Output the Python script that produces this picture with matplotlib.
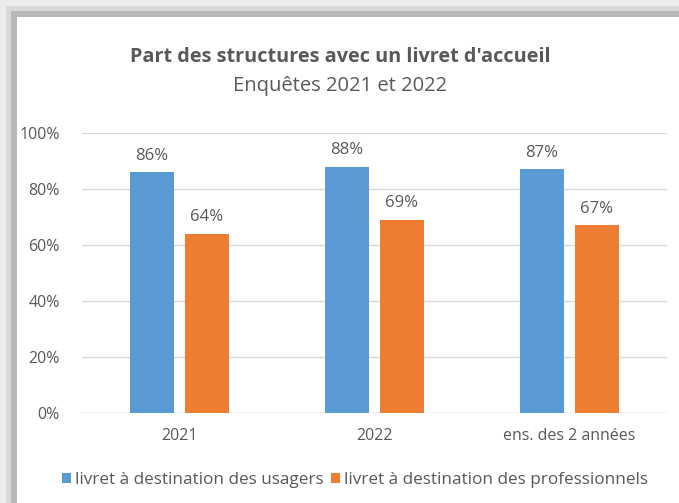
import numpy as np
import matplotlib.pyplot as plt
from matplotlib.patches import Rectangle

categories = ["2021", "2022", "ens. des 2 années"]
usagers = [86, 88, 87]
professionnels = [64, 69, 67]
series_names = ["livret à destination des usagers", "livret à destination des professionnels"]
yticks = [0, 20, 40, 60, 80, 100]

blue = "#5b9bd5"
orange = "#ed7d31"
txt = "#595959"

plt.rcParams['font.family'] = ['Open Sans', 'DejaVu Sans']

W, H = 679, 503
fig = plt.figure(figsize=(W / 100, H / 100), dpi=100)
fig.patch.set_facecolor("white")

# ombre du cadre (haut et gauche)
bands = [(0, 6, "#ececec"), (6, 11, "#d9d9d9"), (11, 17, "#b8b8b8")]
for a, b, c in bands:
    fig.patches.append(Rectangle((a / W, 0), (b - a) / W, 1 - a / H, transform=fig.transFigure,
                                 facecolor=c, edgecolor="none", zorder=0))
    fig.patches.append(Rectangle((a / W, 1 - b / H), 1 - a / W, (b - a) / H, transform=fig.transFigure,
                                 facecolor=c, edgecolor="none", zorder=0))

ax = fig.add_axes([82 / W, 1 - 413 / H, (667 - 82) / W, (413 - 133) / H])
ax.set_facecolor("none")

x = np.arange(len(categories))
w = 0.226
off = 0.141
b1 = ax.bar(x - off, usagers, w, color=blue, label=series_names[0], zorder=3)
b2 = ax.bar(x + off, professionnels, w, color=orange, label=series_names[1], zorder=3)

for bars, vals in ((b1, usagers), (b2, professionnels)):
    for r, v in zip(bars, vals):
        ax.text(r.get_x() + r.get_width() / 2, v + 3.0, f"{v}%", ha="center", va="bottom",
                fontsize=12, color=txt)

ax.set_xlim(-0.5, 2.5)
ax.set_ylim(0, 100)
ax.set_yticks(yticks)
ax.set_yticklabels([f"{t}%" for t in yticks])
ax.set_xticks(x)
ax.set_xticklabels(categories)
ax.tick_params(length=0, labelsize=11.5, labelcolor=txt)
ax.tick_params(axis="y", pad=16)
ax.tick_params(axis="x", pad=11)
ax.grid(axis="y", color="#d9d9d9", linewidth=1, zorder=0)
ax.set_axisbelow(True)
for s in ax.spines.values():
    s.set_visible(False)
ax.axhline(0, color="#d9d9d9", linewidth=1, zorder=2)

fig.text(340 / W, 1 - 57 / H, "Part des structures avec un livret d'accueil", ha="center", va="center",
         fontsize=14.3, fontweight="bold", color=txt)
fig.text(340 / W, 1 - 86 / H, "Enquêtes 2021 et 2022", ha="center", va="center",
         fontsize=14.5, color=txt)

fig.legend(handles=[b1, b2], loc="center", bbox_to_anchor=(355 / W, 1 - 480 / H), ncol=2, frameon=False,
           fontsize=12.3, labelcolor=txt, handlelength=0.55, handleheight=0.55, handletextpad=0.25,
           columnspacing=0.4)

fig.savefig("out.png", dpi=100)
